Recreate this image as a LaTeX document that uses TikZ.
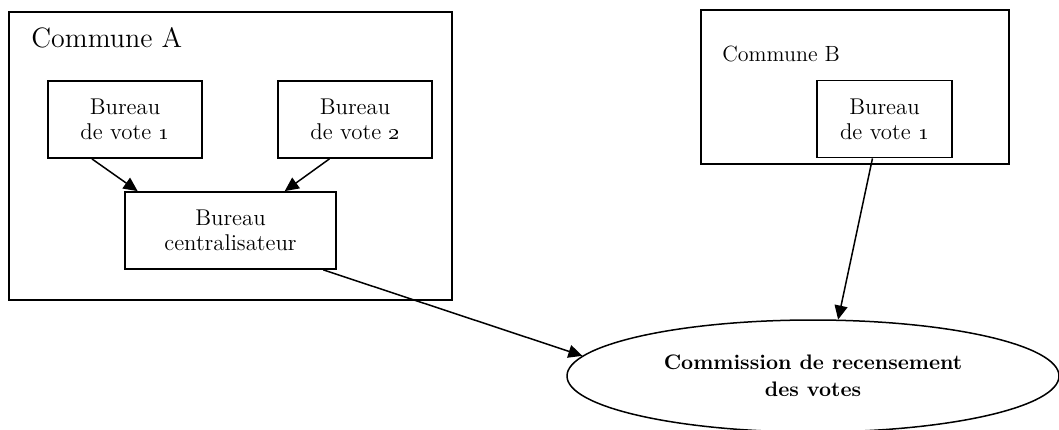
\documentclass[tikz,border=0pt]{standalone}
\usetikzlibrary{arrows.meta,shapes.geometric}
\begin{document}
\begin{tikzpicture}[x=0.5pt,y=-0.5pt,
    commune/.style={draw, line width=0.9pt, inner sep=0pt},
    vote/.style={draw, line width=0.9pt, inner sep=0pt, align=center,
        minimum width=77pt, minimum height=38.5pt,
        font=\fontsize{11.4}{12.5}\selectfont},
    link/.style={-{Triangle[length=7pt,width=6.5pt]}, line width=0.75pt}]
    \useasboundingbox (0,0) rectangle (1059,429);

    % Commune A
    \node[commune, minimum width=221.5pt, minimum height=144pt] (comA) at (230.5,156) {};
    \node[anchor=base west, inner sep=0pt, font=\fontsize{14}{16}\selectfont] (labA) at (31,47) {Commune A};
    \node[vote] (bv1) at (125,119.5) {Bureau\\de vote \oldstylenums{1}};
    \node[vote] (bv2) at (355,119.5) {Bureau\\de vote \oldstylenums{2}};
    \node[vote, minimum width=105.5pt] (cent) at (230.5,230.5) {Bureau\\centralisateur};

    % Commune B
    \node[commune, minimum width=154pt, minimum height=77pt] (comB) at (855,87) {};
    \node[anchor=base west, inner sep=0pt, font=\fontsize{11}{12.5}\selectfont] (labB) at (722,61) {Commune B};
    \node[vote, minimum width=67.5pt] (bvB) at (884.5,119) {Bureau\\de vote \oldstylenums{1}};

    % commission
    \node[draw, ellipse, line width=0.75pt, inner sep=0pt, align=center,
        minimum width=246pt, minimum height=56pt,
        font=\bfseries\fontsize{10.5}{13.5}\selectfont] (crv) at (813,376)
        {Commission de recensement\\des votes};

    \draw[link] (bv1.230) -- (cent.157);
    \draw[link] (bv2.237) -- (cent.36);
    \draw[link] (cent.-23) -- (crv.175);
    \draw[link] (bvB.-107) -- (crv.66);
\end{tikzpicture}
\end{document}
